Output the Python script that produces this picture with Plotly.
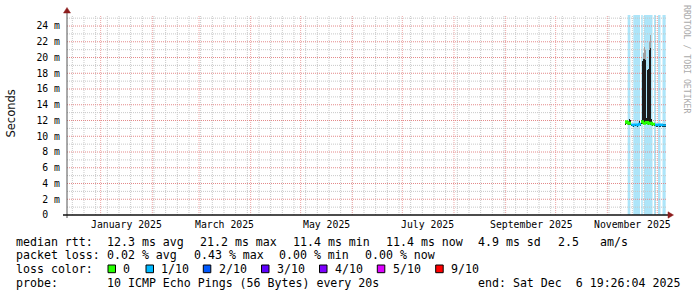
import plotly.graph_objects as go
import pandas as pd

# ---------------- data ----------------
x_start = "2024-12-11 19:26:04"
x_end = "2025-12-06 19:26:04"

month_labels = ["January 2025", "March 2025", "May 2025", "July 2025",
                "September 2025", "November 2025"]
month_label_months = ["2025-01-01", "2025-03-01", "2025-05-01", "2025-07-01",
                      "2025-09-01", "2025-11-01"]

y_tick_values = [0, 2, 4, 6, 8, 10, 12, 14, 16, 18, 20, 22, 24]
y_tick_labels = ["0\u00a0\u00a0", "2 m", "4 m", "6 m", "8 m", "10 m", "12 m",
                 "14 m", "16 m", "18 m", "20 m", "22 m", "24 m"]
y_minor_values = [1, 3, 5, 7, 9, 11, 13, 15, 17, 19, 21, 23, 25]

# samples (one per graph column, 14.4 h each), values in milliseconds
sample_start = "2025-11-11 14:38"
median_ms = [11.7, 11.9, 11.8, 11.6, 11.6, 11.7,
             11.5, 11.5, 11.4, 11.5, 11.5, 11.5, 11.4, 11.5, 11.6, 11.5,
             11.8, 11.9, 11.7, 11.6, 11.7, 11.8,
             11.8, 11.6, 11.7, 11.6, 11.7,
             11.5, 11.6, 11.5, 11.5,
             11.4, 11.4, 11.5, 11.4, 11.4, 11.5, 11.4, 11.4, 11.4, 11.4]
loss_level = [0, 0, 0, 0, 0, 0,
              1, 1, 1, 1, 1, 1, 1, 1, 1, 1,
              0, 0, 0, 0, 0, 0,
              0, 0, 0, 0, 0,
              0, 0, 0, 1,
              1, 1, 1, 1, 1, 1, 1, 1, 1, 1]
smoke_lo_ms = [11.4, 11.5, 11.5, 11.4, 11.4, 11.4,
               11.3, 11.3, 11.3, 11.3, 11.3, 11.3, 11.3, 11.3, 11.4, 11.3,
               11.5, 11.6, 11.5, 11.5, 11.5, 11.5,
               11.5, 11.4, 11.5, 11.4, 11.5,
               11.3, 11.4, 11.3, 11.3,
               11.2, 11.2, 11.3, 11.2, 11.2, 11.3, 11.2, 11.2, 11.2, 11.2]
smoke_dense_ms = [11.8, 12.0, 11.9, 11.7, 12.2, 12.1,
                  11.6, 11.6, 11.5, 11.6, 11.6, 11.6, 11.5, 11.6, 12.0, 11.6,
                  12.1, 19.6, 19.8, 19.8, 19.7, 12.3,
                  18.4, 18.5, 21.0, 21.2, 12.2,
                  11.6, 11.7, 11.6, 11.6,
                  11.5, 11.5, 11.6, 11.5, 11.5, 11.6, 11.5, 11.5, 11.5, 11.5]
smoke_hi_ms = [11.8, 12.0, 11.9, 11.7, 12.2, 12.1,
               11.6, 11.6, 11.5, 11.6, 11.6, 11.6, 11.5, 11.6, 12.0, 11.6,
               12.1, 19.6, 20.6, 21.4, 21.0, 12.3,
               18.4, 18.5, 22.0, 22.9, 12.2,
               11.6, 11.7, 11.6, 11.6,
               11.5, 11.5, 11.6, 11.5, 11.5, 11.6, 11.5, 11.5, 11.5, 11.5]

# light-blue background stripes
stripe_start = ["2025-11-13 05:00", "2025-11-16 14:38", "2025-11-21 08:00",
                "2025-11-23 00:14", "2025-11-29 00:14", "2025-12-01 09:50",
                "2025-12-04 02:38"]
stripe_end = ["2025-11-14 19:26", "2025-11-20 14:38", "2025-11-22 06:00",
              "2025-11-28 02:38", "2025-11-30 05:02", "2025-12-02 21:50",
              "2025-12-06 00:14"]

loss_names = ["0", "1/10", "2/10", "3/10", "4/10", "5/10", "9/10"]
loss_colors = ["#26ff00", "#00b8ff", "#0059ff", "#5e00ff", "#7e00ff",
               "#dd00ff", "#ff0000"]

legend_rtt = ["median rtt:", "12.3 ms avg", "21.2 ms max", "11.4 ms min",
              "11.4 ms now", "4.9 ms sd", "2.5", "am/s"]
legend_loss = ["packet loss:", "0.02 % avg", "0.43 % max", "0.00 % min",
               "0.00 % now"]
probe_text = ["probe:", "10 ICMP Echo Pings (56 Bytes) every 20s",
              "end: Sat Dec  6 19:26:04 2025"]

# ---------------- layout helpers ----------------
W, H = 697, 297
L, R, T, B = 67, 667, 15, 215
MONO = "DejaVu Sans Mono"
RED_GRID = "#eca4a4"
RED_GRID_H = "#e48a8a"
GRAY_GRID = "#c8c8c8"
DOTS = "1px,1px"


def px(xp):
    return (xp - L) / (R - L)


def py(yp):
    return (B - yp) / (B - T)


step = pd.Timedelta(minutes=864)
times = pd.date_range(sample_start, periods=len(median_ms) + 1, freq=step)
centers = [t + step / 2 for t in times[:-1]]
width_ms = step.total_seconds() * 1000

fig = go.Figure()

# smoke (dense part and sparse tip)
fig.add_trace(go.Bar(
    x=centers, y=[d - lo for d, lo in zip(smoke_dense_ms, smoke_lo_ms)],
    base=smoke_lo_ms, width=width_ms, marker=dict(color="#1c1c1c", line_width=0),
    showlegend=False, hoverinfo="skip"))
fig.add_trace(go.Bar(
    x=centers, y=[h - d for h, d in zip(smoke_hi_ms, smoke_dense_ms)],
    base=smoke_dense_ms, width=width_ms, marker=dict(color="#a0a0a0", line_width=0),
    showlegend=False, hoverinfo="skip"))

# median line coloured by loss
for lvl, col in enumerate(loss_colors):
    xs, ys = [], []
    for i, m in enumerate(median_ms):
        if loss_level[i] == lvl:
            xs += [times[i], times[i + 1]]
            ys += [m, m]
            if i + 1 >= len(median_ms) or loss_level[i + 1] != lvl:
                xs.append(None)
                ys.append(None)
    if xs:
        fig.add_trace(go.Scatter(x=xs, y=ys, mode="lines",
                                 line=dict(color=col, width=2),
                                 showlegend=False, hoverinfo="skip"))

shapes = []
for s, e in zip(stripe_start, stripe_end):
    shapes.append(dict(type="rect", xref="x", yref="paper", x0=s, x1=e, y0=0, y1=1,
                       fillcolor="#ade5f9", line_width=0, layer="below"))

# grid lines (dotted, drawn over the stripes, under the data)
month_starts = pd.date_range("2025-01-01", "2025-12-01", freq="MS")
sundays = pd.date_range("2024-12-15", "2025-12-06", freq="7D")
for d in sundays:
    shapes.append(dict(type="line", xref="x", yref="paper", x0=d, x1=d, y0=0, y1=1,
                       line=dict(color=GRAY_GRID, width=1, dash=DOTS), layer="between"))
for v in y_minor_values:
    shapes.append(dict(type="line", xref="paper", yref="y", x0=0, x1=1, y0=v, y1=v,
                       line=dict(color=GRAY_GRID, width=1, dash=DOTS), layer="between"))
for d in month_starts:
    shapes.append(dict(type="line", xref="x", yref="paper", x0=d, x1=d, y0=0, y1=1,
                       line=dict(color=RED_GRID, width=1, dash=DOTS), layer="between"))
for v in y_tick_values[1:]:
    shapes.append(dict(type="line", xref="paper", yref="y", x0=0, x1=1, y0=v, y1=v,
                       line=dict(color=RED_GRID_H, width=1, dash=DOTS), layer="between"))

# axes lines and arrows
shapes.append(dict(type="line", xref="paper", yref="paper", x0=px(L), x1=px(L),
                   y0=py(218), y1=py(12.5), line=dict(color="#555555", width=1)))
shapes.append(dict(type="line", xref="paper", yref="paper", x0=px(63), x1=px(668),
                   y0=py(B), y1=py(B), line=dict(color="#111111", width=1.5)))
shapes.append(dict(type="path", xref="paper", yref="paper",
                   path=f"M {px(67)},{py(7.5)} L {px(70.5)},{py(13)} L {px(63.5)},{py(13)} Z",
                   fillcolor="#8c1c1c", line=dict(color="#8c1c1c", width=0.5)))
shapes.append(dict(type="path", xref="paper", yref="paper",
                   path=f"M {px(673.5)},{py(B)} L {px(668)},{py(211.8)} L {px(668)},{py(218.2)} Z",
                   fillcolor="#8c1c1c", line=dict(color="#8c1c1c", width=0.5)))

annotations = []


def text(x, y, s, size=11.6, color="#000000", angle=0, anchor="left", family=MONO):
    annotations.append(dict(xref="paper", yref="paper", x=px(x), y=py(y), text=s,
                            showarrow=False, xanchor=anchor, yanchor="middle",
                            textangle=angle, borderpad=0, borderwidth=0,
                            font=dict(family=family, size=size, color=color)))


rtt_x = [16, 107.3, 200, 292.7, 386, 478.3, 558.3, 600]
for x, s in zip(rtt_x, legend_rtt):
    text(x, 241.5, s.replace(" ", "\u00a0"))
loss_x = [16, 107.3, 193.7, 279.3, 365]
for x, s in zip(loss_x, legend_loss):
    text(x, 255, s.replace(" ", "\u00a0"))
text(16, 269, "loss\u00a0color:")
box_x = [108, 146, 203.3, 261.5, 319.5, 377.3, 435.7]
for bx, name, col in zip(box_x, loss_names, loss_colors):
    shapes.append(dict(type="rect", xref="paper", yref="paper",
                       x0=px(bx), x1=px(bx + 7.5), y0=py(272.7), y1=py(265),
                       fillcolor=col, line=dict(color="#000000", width=1)))
    text(bx + 15.3, 269, name)
probe_x = [16, 107.3, 478.3]
for x, s in zip(probe_x, probe_text):
    text(x, 282.7, s.replace(" ", "\u00a0"))

text(10, 113.5, "Seconds", size=11.5, angle=-90, anchor="center",
     family="DejaVu Sans", color="#111111")
text(687, 59, "RRDTOOL\u00a0/\u00a0TOBI\u00a0OETIKER", size=8.2, angle=90,
     anchor="center", color="#aaaaaa")

# month labels (placed mid-month like rrdtool), drawn through the x scale
for m, lab in zip(month_label_months, month_labels):
    annotations.append(dict(xref="x", yref="paper",
                            x=pd.Timestamp(m) + pd.Timedelta(hours=367), y=py(224.5),
                            text=lab, showarrow=False, xanchor="center",
                            yanchor="middle", borderpad=0, borderwidth=0,
                            font=dict(family=MONO, size=9.8, color="#000000")))

fig.update_layout(
    width=W, height=H,
    margin=dict(l=L, r=W - R, t=T, b=H - B, pad=0),
    paper_bgcolor="#ffffff", plot_bgcolor="#ffffff",
    barmode="overlay", bargap=0,
    showlegend=False,
    shapes=shapes, annotations=annotations,
    xaxis=dict(type="date", range=[x_start, x_end], zeroline=False, showline=False,
               showticklabels=False, ticks="", showgrid=False),
    yaxis=dict(range=[0, 25.4], tickmode="array", tickvals=y_tick_values,
               ticktext=y_tick_labels, showgrid=False, zeroline=False,
               showline=False, ticks="", ticklen=0, ticklabelstandoff=6,
               tickfont=dict(family=MONO, size=9.8, color="#000000")),
)

fig.write_html("out.html")
